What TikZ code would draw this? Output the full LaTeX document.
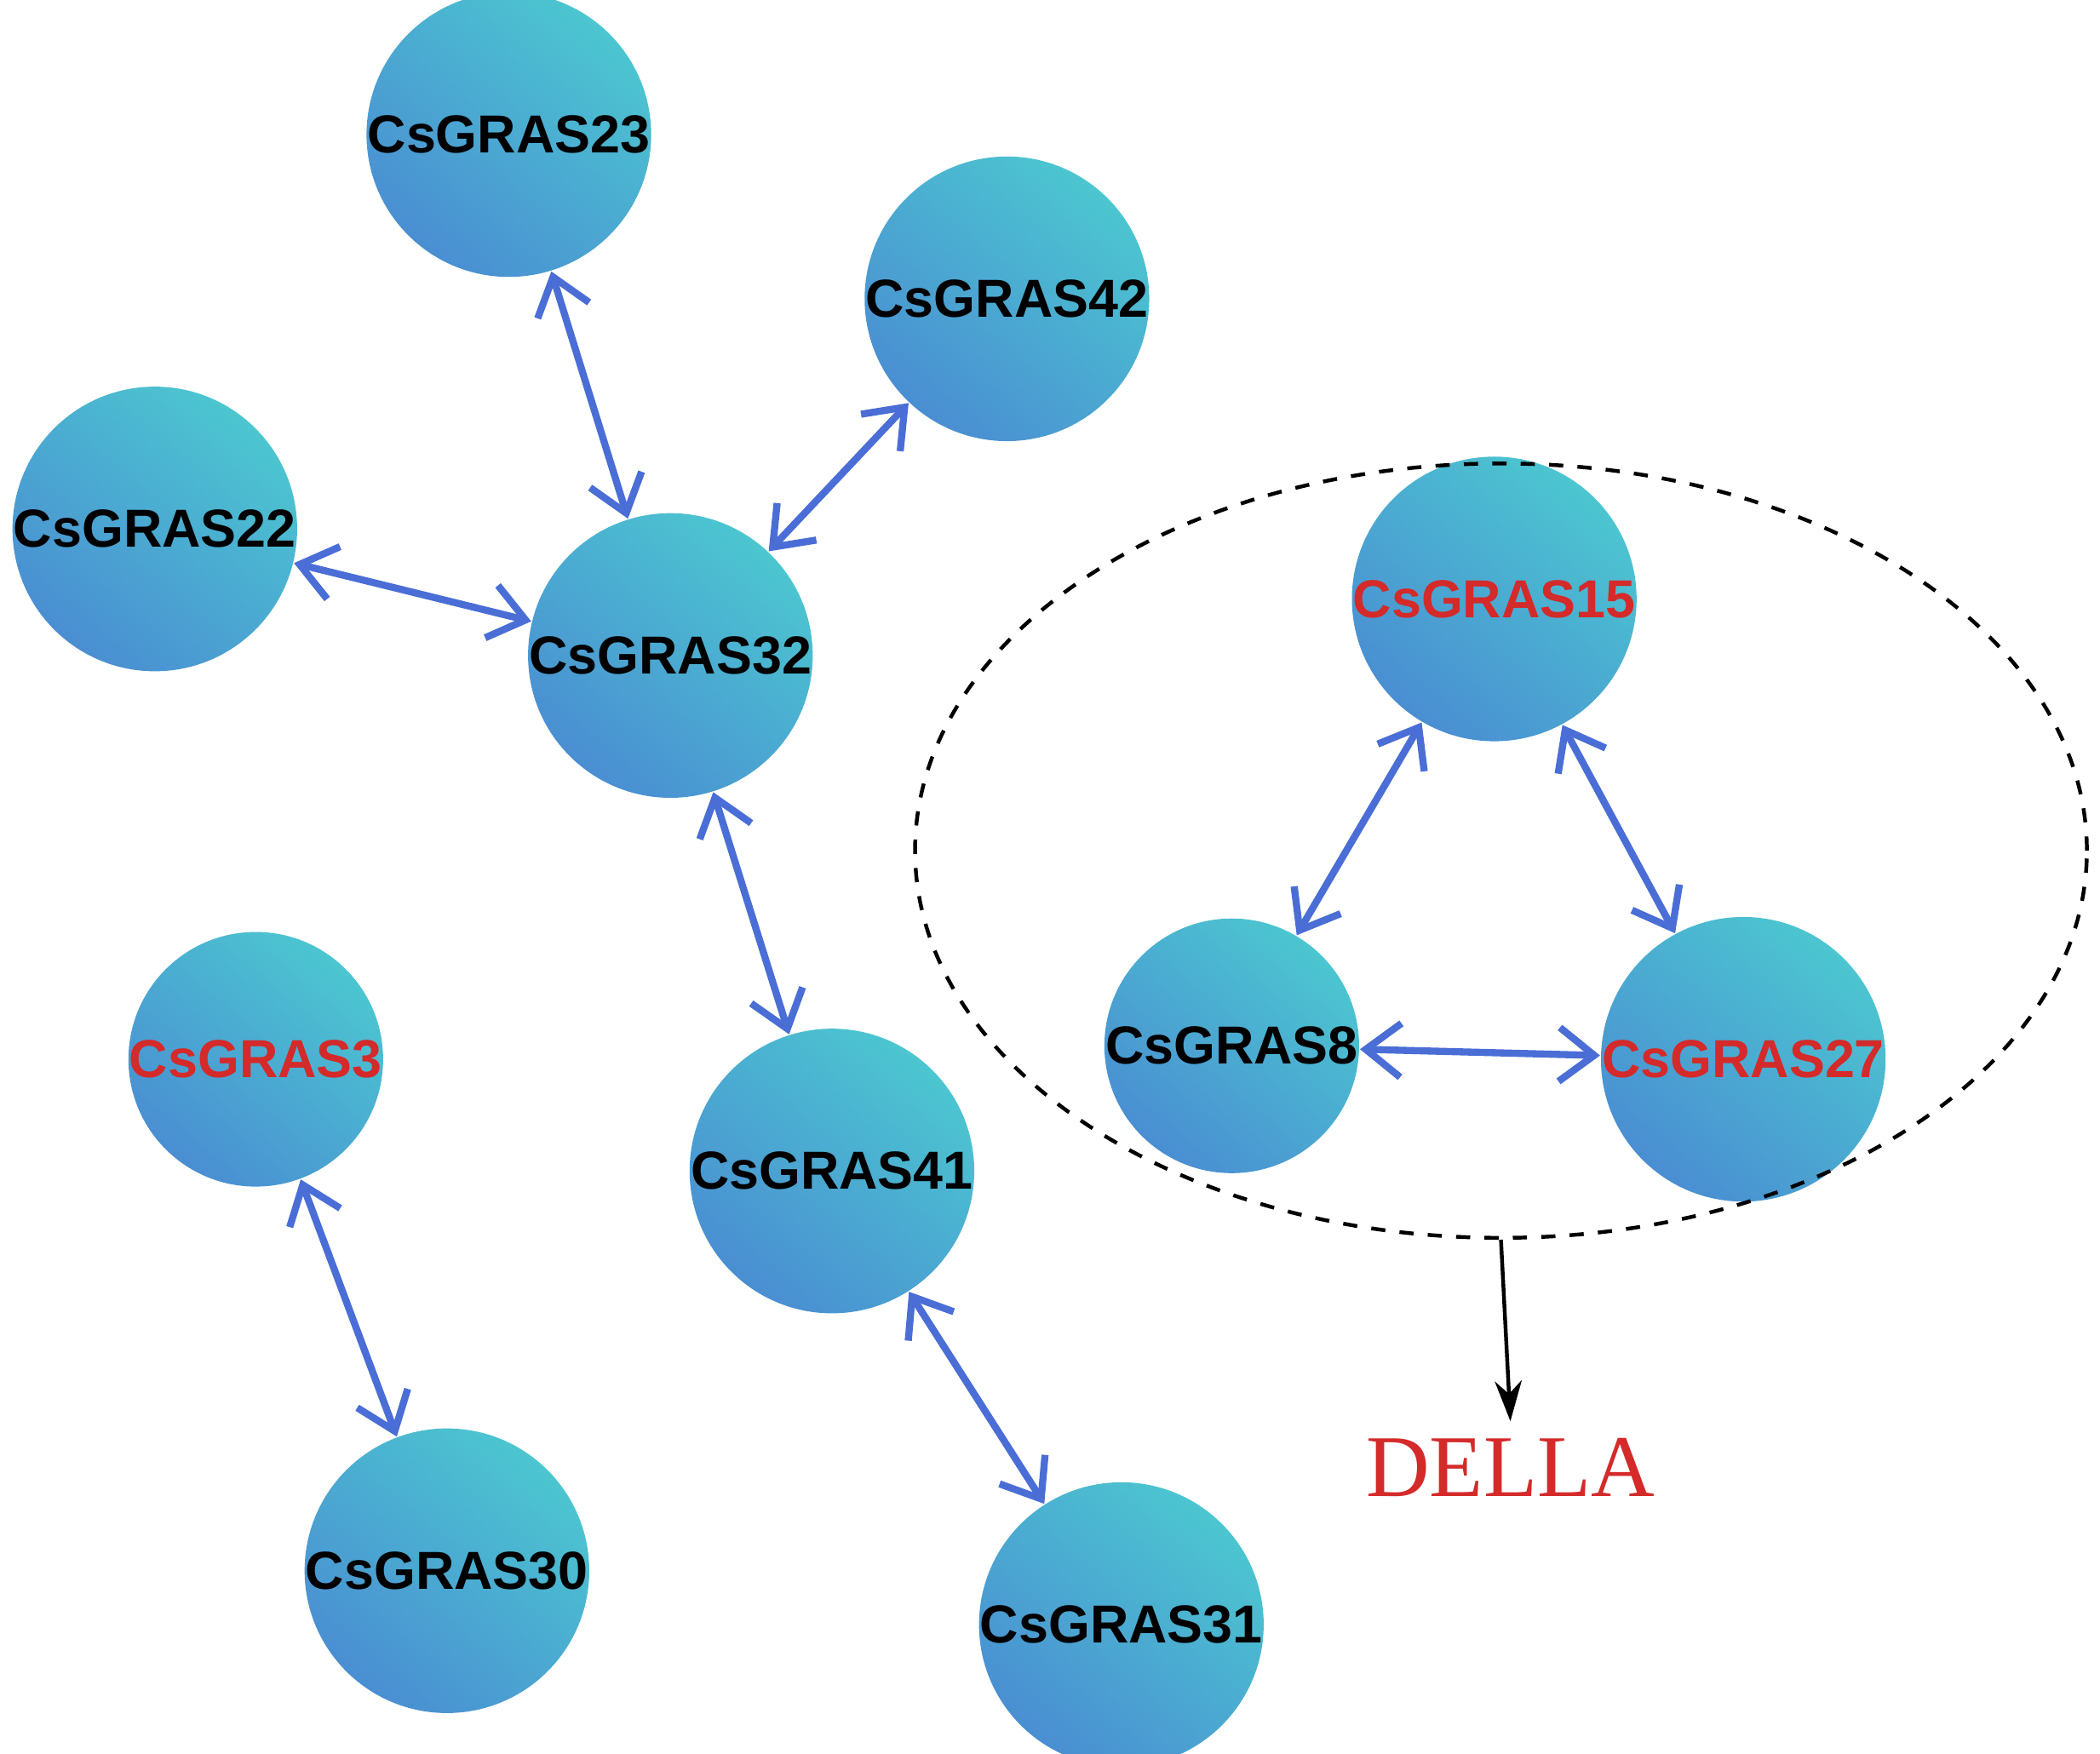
\documentclass[tikz,border=0pt]{standalone}
\usepackage{fontspec}
\setmainfont{Liberation Sans}
\newfontfamily\dellafont{Liberation Serif}
\usetikzlibrary{arrows.meta,shapes.geometric}
\definecolor{nodetop}{HTML}{4CC6D0}
\definecolor{nodebot}{HTML}{4A8ED2}
\definecolor{linkblue}{HTML}{4A6ED6}
\definecolor{dellared}{HTML}{D42A2A}
\tikzset{
  gene/.style={circle,minimum size=1.68cm,inner sep=0pt,draw=none,
    top color=nodetop,bottom color=nodebot,shading angle=-40,
    font=\bfseries\fontsize{11.3}{12}\selectfont},
  della/.style={gene,text=dellared},
  link/.style={linkblue,line width=1.5pt,{Straight Barb[length=2.6mm,width=4mm]}-{Straight Barb[length=2.6mm,width=4mm]}}
}
\begin{document}
\begin{tikzpicture}[x=0.01cm,y=-0.01cm]
        \useasboundingbox (0,0) rectangle (1560,1303);
        \node[gene] (g23) at (378,100) {CsGRAS23};
        \node[gene] (g42) at (748,222) {CsGRAS42};
        \node[gene] (g22) at (115,393) {CsGRAS22};
        \node[gene] (g32) at (498,487) {CsGRAS32};
        \node[gene] (g41) at (618,870) {CsGRAS41};
        \node[gene] (g31) at (833,1207) {CsGRAS31};
        \node[della] (g3) at (190,787) {CsGRAS3};
        \node[gene] (g30) at (332,1167) {CsGRAS30};
        \node[della] (g15) at (1110,445) {CsGRAS15};
        \node[gene] (g8) at (915,777) {CsGRAS8};
        \node[della] (g27) at (1295,787) {CsGRAS27};
        \draw[link] (g23) -- (g32);
        \draw[link] (g42) -- (g32);
        \draw[link] (g22) -- (g32);
        \draw[link] (g32) -- (g41);
        \draw[link] (g41) -- (g31);
        \draw[link] (g3) -- (g30);
        \draw[link] (g15) -- (g8);
        \draw[link] (g15) -- (g27);
        \draw[link] (g8) -- (g27);
        % DELLA group
        \node[ellipse,draw,dashed,line width=0.8pt,minimum width=8.7cm,minimum height=5.75cm] (grp) at (1115,632) {};
        \node[text=dellared,font=\dellafont\fontsize{18.6}{20}\selectfont] (della) at (1122,1090) {DELLA};
        \draw[-{Stealth[length=3mm,width=2mm]},line width=0.8pt] (grp.south) -- (della.north);
      \end{tikzpicture}
\end{document}
